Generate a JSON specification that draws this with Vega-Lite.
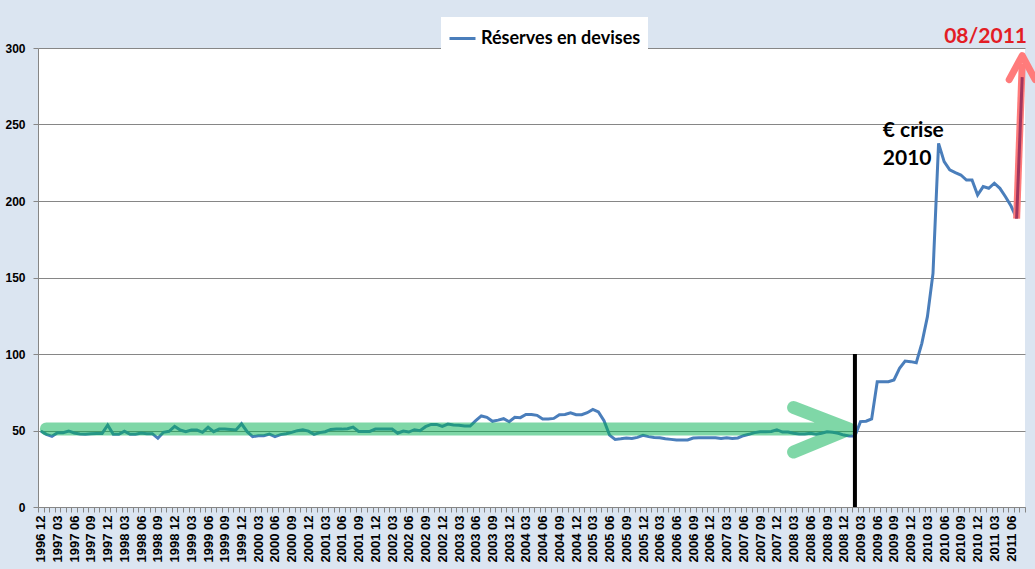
{
  "$schema": "https://vega.github.io/schema/vega-lite/v6.json",
  "width": 987,
  "height": 459,
  "autosize": {"type": "none"},
  "padding": {"left": 38, "top": 48, "right": 10, "bottom": 62},
  "background": "#dbe5f1",
  "config": {"view": {"fill": "white", "stroke": null}},
  "encoding": {
    "x": {
      "field": "month", "type": "ordinal", "bandPosition": 0.5,
      "scale": {"type": "band", "paddingInner": 0, "paddingOuter": 0},
      "axis": {
        "title": null, "labelAngle": 270, "labelFont": "Liberation Sans", "labelFontWeight": "bold",
        "labelFontSize": 13, "labelColor": "black", "labelOverlap": false, "labelPadding": 3,
        "tickBand": "extent", "tickSize": 5, "tickColor": "#868686", "domainColor": "#868686",
        "grid": false,
        "labelExpr": "indexof(['03','06','09','12'], substring(datum.value, 5)) >= 0 ? datum.value : ''"
      }
    },
    "y": {
      "field": "value", "type": "quantitative",
      "scale": {"domain": [0, 300], "nice": false},
      "axis": {
        "title": null, "values": [0, 50, 100, 150, 200, 250, 300], "grid": true, "gridColor": "#868686",
        "tickSize": 5, "tickColor": "#868686", "domainColor": "#868686", "labelPadding": 8,
        "labelFont": "Liberation Sans", "labelFontWeight": "bold", "labelFontSize": 12, "labelColor": "black"
      }
    }
  },
  "layer": [
    {
      "data": {"values": [
        {"month": "1996 12", "value": 49.7}, {"month": "1997 01", "value": 47.5}, {"month": "1997 02", "value": 46.2},
        {"month": "1997 03", "value": 48.6}, {"month": "1997 04", "value": 48.6}, {"month": "1997 05", "value": 49.7},
        {"month": "1997 06", "value": 48.4}, {"month": "1997 07", "value": 47.7}, {"month": "1997 08", "value": 47.5},
        {"month": "1997 09", "value": 47.9}, {"month": "1997 10", "value": 48.1}, {"month": "1997 11", "value": 48.1},
        {"month": "1997 12", "value": 53.6}, {"month": "1998 01", "value": 47.5}, {"month": "1998 02", "value": 47.5},
        {"month": "1998 03", "value": 49.5}, {"month": "1998 04", "value": 47.5}, {"month": "1998 05", "value": 47.5},
        {"month": "1998 06", "value": 48.4}, {"month": "1998 07", "value": 47.9}, {"month": "1998 08", "value": 47.9},
        {"month": "1998 09", "value": 44.9}, {"month": "1998 10", "value": 48.8}, {"month": "1998 11", "value": 49.5},
        {"month": "1998 12", "value": 52.7}, {"month": "1999 01", "value": 50.3}, {"month": "1999 02", "value": 49.2},
        {"month": "1999 03", "value": 50.3}, {"month": "1999 04", "value": 50.3}, {"month": "1999 05", "value": 48.8},
        {"month": "1999 06", "value": 52.1}, {"month": "1999 07", "value": 49.2}, {"month": "1999 08", "value": 50.9},
        {"month": "1999 09", "value": 50.9}, {"month": "1999 10", "value": 50.7}, {"month": "1999 11", "value": 50.3},
        {"month": "1999 12", "value": 54.4}, {"month": "2000 01", "value": 49.2}, {"month": "2000 02", "value": 46.0},
        {"month": "2000 03", "value": 46.6}, {"month": "2000 04", "value": 46.6}, {"month": "2000 05", "value": 47.7},
        {"month": "2000 06", "value": 46.0}, {"month": "2000 07", "value": 47.3}, {"month": "2000 08", "value": 47.9},
        {"month": "2000 09", "value": 48.8}, {"month": "2000 10", "value": 49.9}, {"month": "2000 11", "value": 50.5},
        {"month": "2000 12", "value": 49.6}, {"month": "2001 01", "value": 47.5}, {"month": "2001 02", "value": 48.6},
        {"month": "2001 03", "value": 49.2}, {"month": "2001 04", "value": 50.7}, {"month": "2001 05", "value": 50.9},
        {"month": "2001 06", "value": 50.9}, {"month": "2001 07", "value": 51.2}, {"month": "2001 08", "value": 52.2},
        {"month": "2001 09", "value": 49.4}, {"month": "2001 10", "value": 49.4}, {"month": "2001 11", "value": 49.4},
        {"month": "2001 12", "value": 50.9}, {"month": "2002 01", "value": 50.9}, {"month": "2002 02", "value": 50.9},
        {"month": "2002 03", "value": 50.9}, {"month": "2002 04", "value": 48.2}, {"month": "2002 05", "value": 49.6},
        {"month": "2002 06", "value": 49.0}, {"month": "2002 07", "value": 50.5}, {"month": "2002 08", "value": 49.9},
        {"month": "2002 09", "value": 52.5}, {"month": "2002 10", "value": 54.0}, {"month": "2002 11", "value": 54.0},
        {"month": "2002 12", "value": 52.7}, {"month": "2003 01", "value": 54.2}, {"month": "2003 02", "value": 53.6},
        {"month": "2003 03", "value": 53.4}, {"month": "2003 04", "value": 52.9}, {"month": "2003 05", "value": 52.9},
        {"month": "2003 06", "value": 56.4}, {"month": "2003 07", "value": 59.5}, {"month": "2003 08", "value": 58.6},
        {"month": "2003 09", "value": 56.0}, {"month": "2003 10", "value": 56.8}, {"month": "2003 11", "value": 57.7},
        {"month": "2003 12", "value": 55.7}, {"month": "2004 01", "value": 58.6}, {"month": "2004 02", "value": 58.4},
        {"month": "2004 03", "value": 60.5}, {"month": "2004 04", "value": 60.5}, {"month": "2004 05", "value": 59.9},
        {"month": "2004 06", "value": 57.5}, {"month": "2004 07", "value": 57.5}, {"month": "2004 08", "value": 57.9},
        {"month": "2004 09", "value": 60.3}, {"month": "2004 10", "value": 60.5}, {"month": "2004 11", "value": 61.6},
        {"month": "2004 12", "value": 60.3}, {"month": "2005 01", "value": 60.3}, {"month": "2005 02", "value": 61.6},
        {"month": "2005 03", "value": 63.8}, {"month": "2005 04", "value": 62.1}, {"month": "2005 05", "value": 56.4},
        {"month": "2005 06", "value": 47.0}, {"month": "2005 07", "value": 44.2}, {"month": "2005 08", "value": 44.6},
        {"month": "2005 09", "value": 45.1}, {"month": "2005 10", "value": 44.8}, {"month": "2005 11", "value": 45.5},
        {"month": "2005 12", "value": 46.8}, {"month": "2006 01", "value": 46.0}, {"month": "2006 02", "value": 45.5},
        {"month": "2006 03", "value": 45.3}, {"month": "2006 04", "value": 44.6}, {"month": "2006 05", "value": 44.2},
        {"month": "2006 06", "value": 43.8}, {"month": "2006 07", "value": 43.8}, {"month": "2006 08", "value": 43.8},
        {"month": "2006 09", "value": 45.1}, {"month": "2006 10", "value": 45.3}, {"month": "2006 11", "value": 45.3},
        {"month": "2006 12", "value": 45.3}, {"month": "2007 01", "value": 45.3}, {"month": "2007 02", "value": 44.8},
        {"month": "2007 03", "value": 45.3}, {"month": "2007 04", "value": 44.8}, {"month": "2007 05", "value": 45.1},
        {"month": "2007 06", "value": 46.6}, {"month": "2007 07", "value": 47.5}, {"month": "2007 08", "value": 48.6},
        {"month": "2007 09", "value": 49.2}, {"month": "2007 10", "value": 49.2}, {"month": "2007 11", "value": 49.4},
        {"month": "2007 12", "value": 50.5}, {"month": "2008 01", "value": 49.0}, {"month": "2008 02", "value": 49.0},
        {"month": "2008 03", "value": 48.2}, {"month": "2008 04", "value": 47.7}, {"month": "2008 05", "value": 47.7},
        {"month": "2008 06", "value": 48.2}, {"month": "2008 07", "value": 47.5}, {"month": "2008 08", "value": 48.2},
        {"month": "2008 09", "value": 49.2}, {"month": "2008 10", "value": 48.8}, {"month": "2008 11", "value": 48.2},
        {"month": "2008 12", "value": 47.0}, {"month": "2009 01", "value": 46.4}, {"month": "2009 02", "value": 46.4},
        {"month": "2009 03", "value": 55.8}, {"month": "2009 04", "value": 56.1}, {"month": "2009 05", "value": 57.6},
        {"month": "2009 06", "value": 81.9}, {"month": "2009 07", "value": 81.9}, {"month": "2009 08", "value": 81.9},
        {"month": "2009 09", "value": 83.0}, {"month": "2009 10", "value": 90.6}, {"month": "2009 11", "value": 95.4},
        {"month": "2009 12", "value": 95.0}, {"month": "2010 01", "value": 94.3}, {"month": "2010 02", "value": 107.0},
        {"month": "2010 03", "value": 124.4}, {"month": "2010 04", "value": 152.7}, {"month": "2010 05", "value": 237.7},
        {"month": "2010 06", "value": 225.7}, {"month": "2010 07", "value": 220.3}, {"month": "2010 08", "value": 218.5},
        {"month": "2010 09", "value": 217.0}, {"month": "2010 10", "value": 213.7}, {"month": "2010 11", "value": 213.7},
        {"month": "2010 12", "value": 203.9}, {"month": "2011 01", "value": 209.4}, {"month": "2011 02", "value": 208.3},
        {"month": "2011 03", "value": 211.6}, {"month": "2011 04", "value": 208.3}, {"month": "2011 05", "value": 202.8},
        {"month": "2011 06", "value": 196.7}, {"month": "2011 07", "value": 188.7}
      ]},
      "mark": {"type": "line", "strokeWidth": 3},
      "encoding": {
        "color": {
          "datum": "Réserves en devises", "type": "nominal",
          "scale": {"range": ["#4a7ebb"]},
          "legend": {
            "orient": "none", "legendX": 403, "legendY": -31, "title": null,
            "fillColor": "white", "padding": 7, "symbolType": "stroke", "symbolStrokeWidth": 3,
            "symbolSize": 676, "labelFont": "Lato", "labelFontWeight": "bold", "labelFontSize": 18,
            "labelColor": "black", "labelOffset": 4, "labelLimit": 300
          }
        }
      }
    },
    {
      "data": {"values": [
        {"month": "1997 01", "value": 51, "k": 1},
        {"month": "2009 01", "value": 51, "k": 2},
        {"month": "2008 03", "value": 65, "k": 3},
        {"month": "2009 01", "value": 51, "k": 4},
        {"month": "2008 03", "value": 36, "k": 5}
      ]},
      "mark": {"type": "line", "color": "#00b050", "opacity": 0.5, "strokeWidth": 13, "strokeCap": "round", "strokeJoin": "round"},
      "encoding": {"order": {"field": "k", "type": "quantitative"}}
    },
    {
      "data": {"values": [{"month": "2009 02", "value": 0, "value2": 100}]},
      "mark": {"type": "rule", "color": "black", "strokeWidth": 4},
      "encoding": {"y2": {"field": "value2"}}
    },
    {
      "data": {"values": [{"month": "2011 07", "value": 188.5}, {"month": "2011 08", "value": 290}]},
      "mark": {"type": "line", "color": "#ff7b7b", "strokeWidth": 7, "strokeCap": "butt"}
    },
    {
      "data": {"values": [{"month": "2011 07", "value": 188.5}, {"month": "2011 08", "value": 281}]},
      "mark": {"type": "line", "color": "#a0365e", "strokeWidth": 3, "strokeCap": "butt"}
    },
    {
      "data": {"values": [{"month": "2011 08", "value": 295}]},
      "mark": {"type": "point", "shape": "M-1,1.85L0,0L1,1.85", "size": 676, "filled": false, "stroke": "#ff7b7b", "strokeWidth": 7, "strokeCap": "round", "strokeJoin": "round", "opacity": 1}
    },
    {
      "data": {"values": [
        {"month": "2009 07", "value": 241.8, "label": "€ crise"},
        {"month": "2009 07", "value": 223.5, "label": "2010"}
      ]},
      "mark": {"type": "text", "align": "left", "baseline": "alphabetic", "font": "Lato", "fontWeight": "bold", "fontSize": 21, "color": "black"},
      "encoding": {"text": {"field": "label"}}
    },
    {
      "data": {"values": [{"month": "2010 06", "value": 303, "label": "08/2011"}]},
      "mark": {"type": "text", "align": "left", "baseline": "alphabetic", "font": "Lato", "fontWeight": "bold", "fontSize": 21, "color": "#e31d25"},
      "encoding": {"text": {"field": "label"}}
    }
  ]
}
